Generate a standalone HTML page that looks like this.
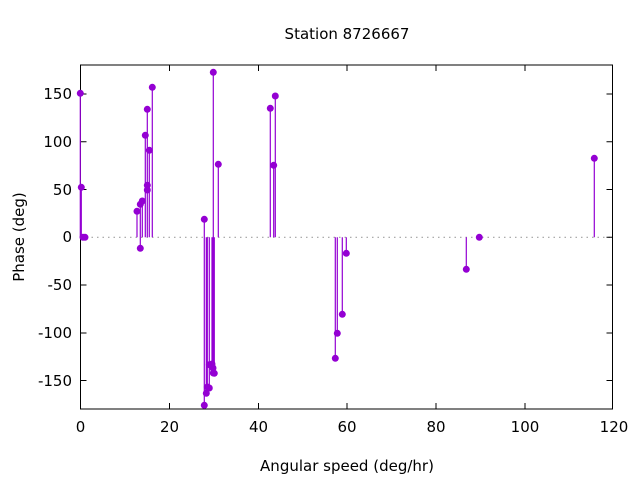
<!DOCTYPE html>
<html><head><style>body{margin:0;background:#fff}svg{display:block}text{font-family:"DejaVu Sans","Liberation Sans",sans-serif;font-size:15px;fill:#000}</style></head><body>
<svg width="640" height="480" xmlns="http://www.w3.org/2000/svg">
<text x="347" y="39" text-anchor="middle">Station 8726667</text>
<line x1="80.5" y1="237.3" x2="612.5" y2="237.3" stroke="#a0a0a0" stroke-width="1.2" stroke-dasharray="1.5,4"/>
<g stroke="#000" stroke-width="1">
<rect x="80.5" y="65" width="532" height="344" fill="none"/>
<path d="M80.5 409v-6M169.5 409v-6M258.5 409v-6M347 409v-6M436 409v-6M525 409v-6M169.5 65v6M258.5 65v6M347 65v6M436 65v6M525 65v6
M80.5 94h6M80.5 141.7h6M80.5 189.5h6M80.5 237.3h6M80.5 285h6M80.5 333h6M80.5 380.5h6
M612.5 94h-6M612.5 141.7h-6M612.5 189.5h-6M612.5 237.3h-6M612.5 285h-6M612.5 333h-6M612.5 380.5h-6"/>
</g>
<g text-anchor="end">
<text x="72" y="99">150</text><text x="72" y="147">100</text><text x="72" y="195">50</text><text x="72" y="242">0</text><text x="72" y="290">-50</text><text x="72" y="338">-100</text><text x="72" y="386">-150</text>
</g>
<g text-anchor="middle">
<text x="80.5" y="432">0</text><text x="169.5" y="432">20</text><text x="258.5" y="432">40</text><text x="347" y="432">60</text><text x="436" y="432">80</text><text x="525" y="432">100</text><text x="614" y="432">120</text>
<text x="347" y="471">Angular speed (deg/hr)</text>
</g>
<text transform="translate(24 237) rotate(-90)" text-anchor="middle">Phase (deg)</text>
<g stroke="#9400d3" stroke-width="1.2" fill="#9400d3">
<script>/*no*/</script>
</g>
<g id="s" stroke="#9400d3" stroke-width="1.2">
<path d="M80.3 237.3V93.3M81.3 237.3V187.3M137 237.3V211.3M140.3 237.3V248.3M140.3 237.3V204.3M142.3 237.3V201M145.3 237.3V135.3M147.3 237.3V109.3M147.3 237.3V185.3M147.3 237.3V190M149.3 237.3V150.3M152.3 237.3V87.3
M204.3 237.3V219.3M204.3 237.3V405.3M206.3 237.3V393.3M207.3 237.3V387M209.3 237.3V388M209.3 237.3V364.7M212 237.3V364M213 237.3V368M213.3 237.3V373M214.3 237.3V373.3M213.3 237.3V72.3M218.3 237.3V164.3
M270.3 237.3V108.3M273.7 237.3V165.3M275.3 237.3V96M335.3 237.3V358.3M337.3 237.3V333.3M342.3 237.3V314.3M346.3 237.3V253.3M466.3 237.3V269.3M594.3 237.3V158.3"/>
</g>
<g fill="#9400d3">
<circle cx="80.3" cy="93.3" r="3.5"/><circle cx="81.3" cy="187.3" r="3.5"/><circle cx="83" cy="237.3" r="3.5"/><circle cx="85" cy="237.3" r="3.5"/>
<circle cx="137" cy="211.3" r="3.5"/><circle cx="140.3" cy="248.3" r="3.5"/><circle cx="140.3" cy="204.3" r="3.5"/><circle cx="142.3" cy="201" r="3.5"/><circle cx="145.3" cy="135.3" r="3.5"/><circle cx="147.3" cy="109.3" r="3.5"/><circle cx="147.3" cy="185.3" r="3.5"/><circle cx="147.3" cy="190" r="3.5"/><circle cx="149.3" cy="150.3" r="3.5"/><circle cx="152.3" cy="87.3" r="3.5"/>
<circle cx="204.3" cy="219.3" r="3.5"/><circle cx="204.3" cy="405.3" r="3.5"/><circle cx="206.3" cy="393.3" r="3.5"/><circle cx="207.3" cy="387" r="3.5"/><circle cx="209.3" cy="388" r="3.5"/><circle cx="209.3" cy="364.7" r="3.5"/><circle cx="212" cy="364" r="3.5"/><circle cx="213" cy="368" r="3.5"/><circle cx="213.3" cy="373" r="3.5"/><circle cx="214.3" cy="373.3" r="3.5"/><circle cx="213.3" cy="72.3" r="3.5"/><circle cx="218.3" cy="164.3" r="3.5"/>
<circle cx="270.3" cy="108.3" r="3.5"/><circle cx="273.7" cy="165.3" r="3.5"/><circle cx="275.3" cy="96" r="3.5"/>
<circle cx="335.3" cy="358.3" r="3.5"/><circle cx="337.3" cy="333.3" r="3.5"/><circle cx="342.3" cy="314.3" r="3.5"/><circle cx="346.3" cy="253.3" r="3.5"/><circle cx="466.3" cy="269.3" r="3.5"/><circle cx="479.3" cy="237.3" r="3.5"/><circle cx="594.3" cy="158.3" r="3.5"/>
</g>
</svg>
</body></html>
